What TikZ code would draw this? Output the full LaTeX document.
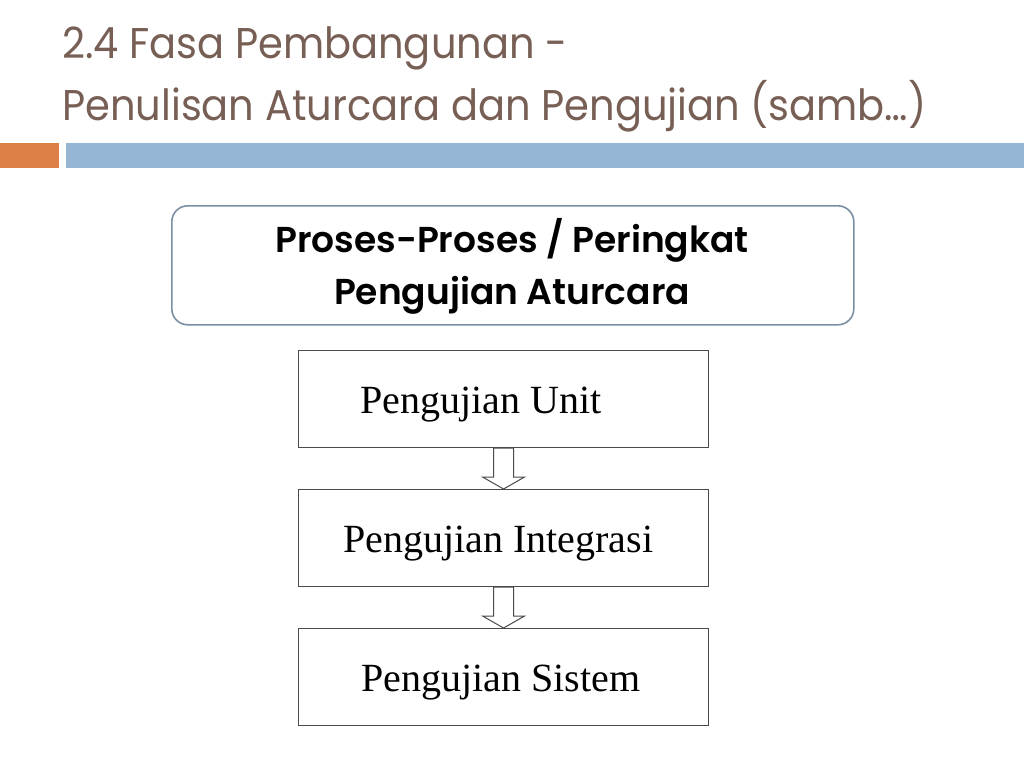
\documentclass[tikz,border=0pt]{standalone}
\usepackage{fontspec}
\setmainfont{Liberation Serif}
\newfontfamily\titlefont{Poppins}
\newfontfamily\headfont{Poppins}[UprightFont=* SemiBold]
\usetikzlibrary{calc}
\definecolor{titlebrown}{HTML}{775F55}
\definecolor{barorange}{HTML}{DD8047}
\definecolor{barblue}{HTML}{94B6D2}
\definecolor{headline}{HTML}{7A8FA3}
\definecolor{boxline}{HTML}{4A4A4A}
\tikzset{
  titletext/.style={anchor=base west, inner sep=0pt, text=titlebrown, font=\titlefont\fontsize{43}{50}\selectfont},
  headtext/.style={anchor=base, inner sep=0pt, font=\headfont\fontsize{36}{44}\selectfont},
  stagebox/.style={draw=boxline, line width=1.1pt, minimum width=410pt, minimum height=97pt, inner sep=0pt, anchor=north west},
  stagetext/.style={anchor=base west, inner sep=0pt, font=\fontsize{40}{48}\selectfont},
  blockarrow/.style={draw=boxline, line width=1pt, fill=white},
}
\begin{document}
\begin{tikzpicture}[x=1pt,y=-1pt]
\useasboundingbox (0,0) rectangle (1024,768);
% title
\node[titletext] (t1) at (62,59) {\scalebox{0.93}[1]{2.4 Fasa Pembangunan -}};
\node[titletext] (t2) at (62,120) {\scalebox{0.93}[1]{Penulisan Aturcara dan Pengujian (samb\ldots)}};
% bars
\fill[barorange] (0,143) rectangle (59,168);
\fill[barblue] (66,143) rectangle (1024,168);
% header box
\node[draw=headline, line width=1.6pt, rounded corners=16pt, minimum width=682pt, minimum height=119pt, anchor=north west, inner sep=0pt] (hb) at (171,205) {};
\node[headtext] (h1) at (512,252) {Proses-Proses / Peringkat};
\node[headtext] (h2) at (512,304) {Pengujian Aturcara};
% stage boxes
\node[stagebox] (u) at (298,350) {};
\node[stagebox] (i) at (298,489) {};
\node[stagebox] (s) at (298,628) {};
\node[stagetext] (ut) at (360,413) {Pengujian Unit};
\node[stagetext] (it) at (343,552) {Pengujian Integrasi};
\node[stagetext] (st) at (361,691) {Pengujian Sistem};
% block arrows
\foreach \a/\b in {u/i, i/s}{
  \draw[blockarrow] ($(\a.south)+(-10,0)$) -- ($(\a.south)+(10,0)$) -- ($(\b.north)+(10,-12)$) -- ($(\b.north)+(21,-12)$) -- (\b.north) -- ($(\b.north)+(-21,-12)$) -- ($(\b.north)+(-10,-12)$) -- cycle;
}
\end{tikzpicture}
\end{document}
